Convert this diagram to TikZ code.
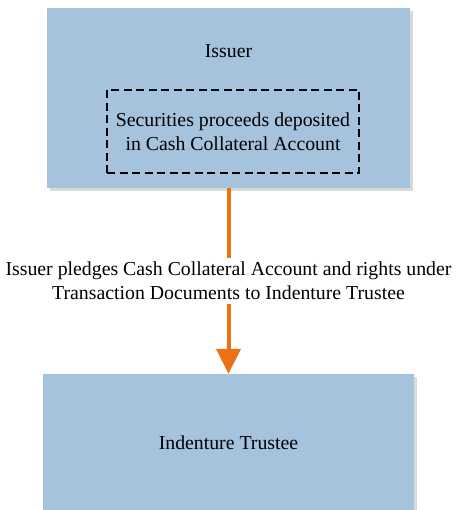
\documentclass[tikz,border=0pt]{standalone}
\usepackage{fontspec}
\setmainfont{Liberation Serif}
\usepackage{tikz}
\usetikzlibrary{arrows.meta,shadows}
\definecolor{partyblue}{RGB}{166,195,221}
\definecolor{pledgeorange}{RGB}{236,112,22}

\begin{document}
\begin{tikzpicture}[x=1pt,y=-1pt,
    every node/.style={font=\fontsize{19.8}{24}\selectfont},
    party/.style={rectangle,fill=partyblue,draw=none,drop shadow={shadow xshift=3pt,shadow yshift=-3pt,fill=black!15,opacity=1}},
    account/.style={rectangle,draw=black,line width=1.4pt,dash pattern=on 8pt off 4.5pt,align=center},
    pledge/.style={draw=pledgeorange,line width=4pt,-{Triangle[width=24pt,length=25pt]}}]
    \useasboundingbox (0,0) rectangle (456,510);
    \clip (0,0) rectangle (456,510);
    \node[party,minimum width=363pt,minimum height=180pt] (issuer) at (228.5,98) {};
    \node (issuertxt) at (228.5,51) {Issuer};
    \node[account,minimum width=252pt,minimum height=83pt] (cashacct) at (233,131.5) {Securities proceeds deposited\\in Cash Collateral Account};
    \node[party,minimum width=371pt,minimum height=138pt] (trustee) at (228.5,443) {Indenture Trustee};
    \draw[pledge] (issuer) -- (trustee) node[midway,fill=white,align=center,inner sep=4pt] (pledgetxt) {Issuer pledges Cash Collateral Account and rights under\\Transaction Documents to Indenture Trustee};
    %\node at (228,281) {};
\end{tikzpicture}
\end{document}
